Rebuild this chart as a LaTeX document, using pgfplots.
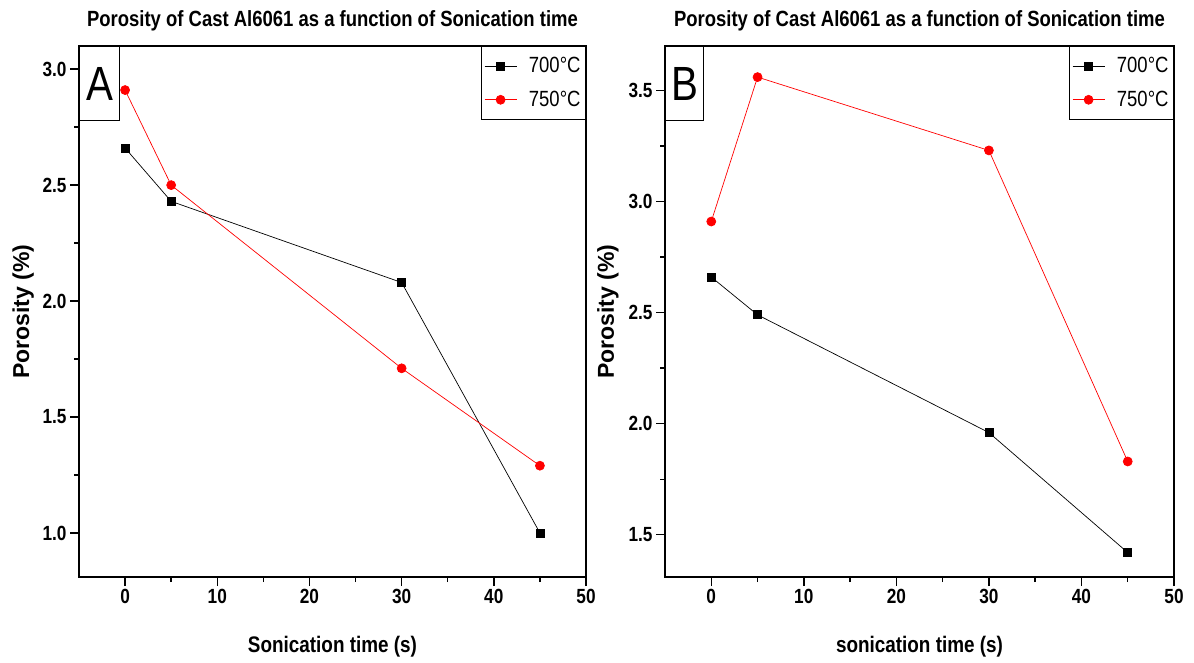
\documentclass[border=0pt]{standalone}
\usepackage{fontspec}
\setmainfont{Liberation Sans}[FakeStretch=0.84]
\newfontfamily\wideb{Liberation Sans}
\usepackage{pgfplots}
\usepackage{pgfplotstable}
\pgfplotsset{compat=1.18}

\pgfplotstableread{
t p700 p750
0 2.66 2.91
5 2.43 2.50
30 2.08 1.71
45 1.00 1.29
}\dataA
\pgfplotstableread{
t p700 p750
0 2.66 2.91
5 2.49 3.56
30 1.96 3.23
45 1.42 1.83
}\dataB

\pgfplotsset{
 myax/.style={
   scale only axis, width=507pt, height=531pt,
   xmin=-5, xmax=50, xtick={0,10,...,50}, minor x tick num=1,
   minor y tick num=1,
   tick align=outside, xtick pos=bottom, ytick pos=left,
   major tick length=9pt, minor tick length=5pt,
   every tick/.style={black, line width=1.4pt},
   axis line style={line width=1.8pt},
   tick label style={font=\fontsize{20.5}{22}\selectfont\bfseries},
   /pgf/number format/assume math mode=true,
   y tick label style={/pgf/number format/fixed, /pgf/number format/fixed zerofill, /pgf/number format/precision=1},
   title style={font=\fontsize{22}{25}\selectfont\bfseries, at={(axis description cs:0.5,1.036)}, anchor=center},
   xlabel style={font=\fontsize{22.5}{25}\selectfont\bfseries, at={(axis description cs:0.5,-0.132)}, anchor=center},
   legend style={at={(axis description cs:1,1)}, anchor=north east, draw=black, line width=1pt,
     font=\fontsize{22}{24}\selectfont, inner xsep=3pt, inner ysep=9pt, row sep=13pt, cells={anchor=west}},
   legend image code/.code={\draw[mark repeat=2, mark phase=2] plot coordinates {(0pt,0pt) (16pt,0pt) (32pt,0pt)};},
   ylabel={\wideb\bfseries Porosity (\%)},
 },
 s700/.style={black, line width=0.7pt, mark=square*, mark size=4pt, mark options={solid}},
 s750/.style={red, line width=0.7pt, mark=*, mark size=4.5pt, mark options={solid}},
}

\begin{document}
\begin{tikzpicture}
\useasboundingbox (0,0) rectangle (1194pt,662pt);
\begin{axis}[myax, at={(79pt,85pt)}, anchor=south west,
  ylabel style={font=\fontsize{23}{25}\selectfont, at={(axis description cs:-0.110,0.5)}, anchor=center},
  ymin=0.81, ymax=3.10, ytick={1.0,1.5,2.0,2.5,3.0},
  title={Porosity of Cast Al6061 as a function of Sonication time},
  xlabel={Sonication time (s)}]
\addplot[s700] table[x=t,y=p700]{\dataA};
\addlegendentry{\hspace{10pt}700°C}
\addplot[s750] table[x=t,y=p750]{\dataA};
\addlegendentry{\hspace{10pt}750°C}
\node[draw, line width=1pt, anchor=north west, minimum width=40pt, minimum height=74pt, inner sep=0pt,
  font=\fontsize{48}{48}\selectfont] at (rel axis cs:0,1) {A};
\end{axis}
\begin{axis}[myax, at={(665pt,85pt)}, anchor=south west, width=509pt,
  ylabel style={font=\fontsize{23}{25}\selectfont, at={(axis description cs:-0.112,0.5)}, anchor=center},
  ymin=1.31, ymax=3.70, ytick={1.5,2.0,2.5,3.0,3.5},
  title={Porosity of Cast Al6061 as a function of Sonication time},
  xlabel={sonication time (s)}]
\addplot[s700] table[x=t,y=p700]{\dataB};
\addlegendentry{\hspace{10pt}700°C}
\addplot[s750] table[x=t,y=p750]{\dataB};
\addlegendentry{\hspace{10pt}750°C}
\node[draw, line width=1pt, anchor=north west, minimum width=38pt, minimum height=74pt, inner sep=0pt,
  font=\fontsize{48}{48}\selectfont] at (rel axis cs:0,1) {B};
\end{axis}
\end{tikzpicture}
\end{document}
